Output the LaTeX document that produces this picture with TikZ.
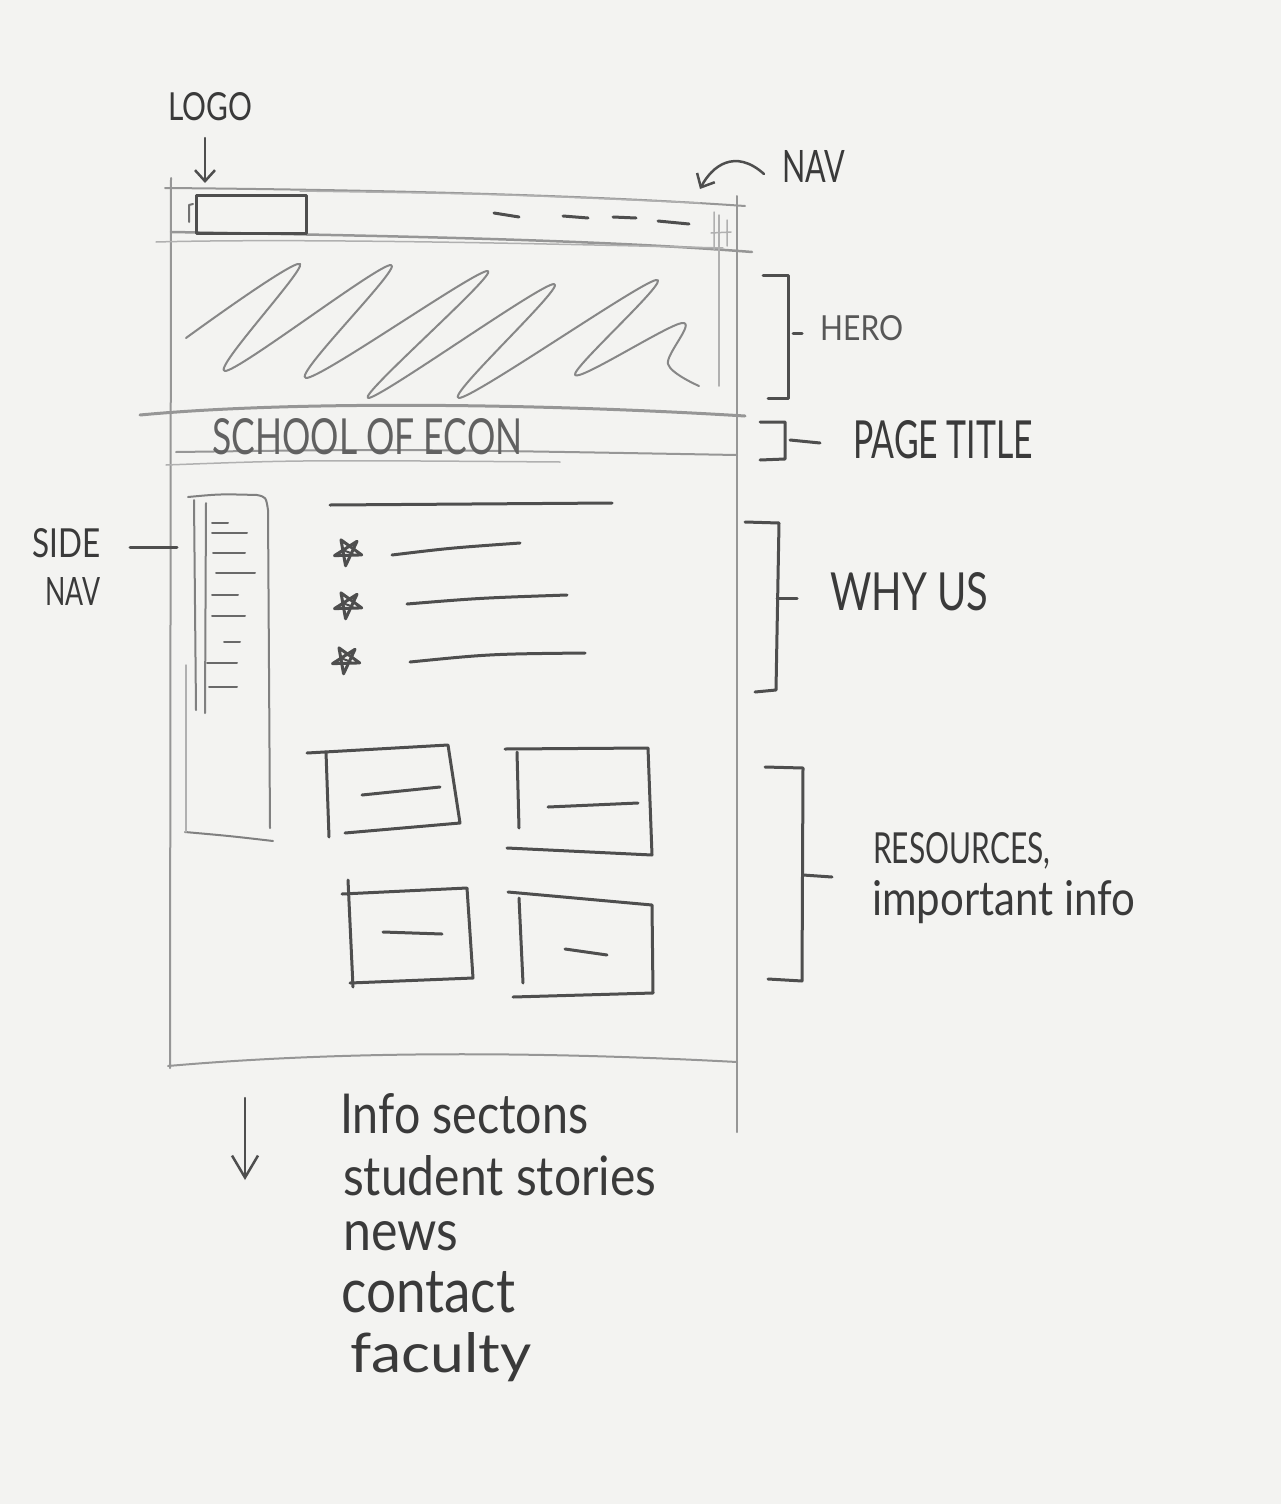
\documentclass[tikz,border=0pt]{standalone}
\usepackage{fontspec}
\usetikzlibrary{arrows.meta}
\newfontfamily\handfont{Lato}
% text stretched to a given width and height (in pt)
\newcommand{\handtext}[3]{\resizebox{#1pt}{#2pt}{\handfont #3}}
\definecolor{paper}{RGB}{243,243,241}
\definecolor{pencilgray}{RGB}{150,150,150}
\definecolor{penink}{RGB}{78,78,78}
\definecolor{ink}{RGB}{58,58,58}

\begin{document}
\begin{tikzpicture}[x=1pt,y=-1pt,
  pencil/.style={draw=pencilgray,line width=2pt,line cap=round,line join=round},
  softpencil/.style={draw=pencilgray!75,line width=1.5pt,line cap=round,line join=round},
  pen/.style={draw=penink,line width=3pt,line cap=round,line join=round},
  lbl/.style={inner sep=0pt,anchor=base west,text=ink},
  barb/.style={-{Straight Barb[length=11pt,width=20pt]}}]

\fill[paper] (0,0) rectangle (1281,1504);
\useasboundingbox (0,0) rectangle (1281,1504);

% ---------- page frame ----------
\draw[pencil] (171,178) -- (170,1068);
\draw[pencil] (737,196) -- (737,1132);
\draw[pencil] (165,188) .. controls (400,190) and (600,196) .. (745,206);
\draw[softpencil] (300,191) .. controls (500,194) .. (700,203);

% navigation bar
\draw[pencil,line width=2.5pt] (171,232) .. controls (400,236) and (600,240) .. (752,252);
\draw[softpencil] (156,242) .. controls (300,238) and (560,244) .. (723,248);
\draw[softpencil] (719,215) -- (719,386);
\draw[softpencil] (714,212) -- (714,250) (727,220) -- (727,246) (711,233) -- (731,232);

\node[pen,draw,minimum width=110pt,minimum height=38pt,inner sep=0pt] (logobox) at (251,214) {};
\draw[pencil,draw=penink!80] (193,204) -- (189,205) -- (189,222);
\draw[pen] (494,213) -- (519,217);
\draw[pen] (563,216) -- (588,218);
\draw[pen] (613,217) -- (636,218);
\draw[pen] (658,221) -- (689,224);

% hero scribble
\draw[pencil,draw=pencilgray!90!black] plot[smooth,tension=0.55] coordinates {
  (186,338) (300,264) (225,371) (391,265) (306,378) (488,271) (368,398)
  (554,284) (459,398) (656,280) (575,375) (682,323) (668,364) (699,386)};

% page title band
\draw[pencil,line width=3pt] (140,415) .. controls (300,400) and (550,404) .. (745,416);
\draw[pencil] (176,452) .. controls (400,449) .. (737,455);
\draw[softpencil] (166,465) .. controls (300,460) .. (560,462);
\node[lbl,text=ink!80] (school) at (212,454) {\handtext{310}{36}{SCHOOL OF ECON}};

% ---------- side navigation ----------
\draw[pencil,draw=pencilgray!85!black] (188,497) .. controls (220,494) .. (257,495)
  .. controls (266,497) .. (268,510) -- (270,828);
\draw[pencil,draw=pencilgray!85!black] (185,832) .. controls (230,836) .. (273,841);
\draw[pencil,draw=pencilgray!85!black] (194,500) -- (196,710);
\draw[softpencil] (186,665) -- (186,832);
\draw[pencil,draw=pencilgray!85!black] (206,503) -- (205,713);
\foreach \xa/\xb/\yy in {212/228/523, 212/247/533, 213/245/553, 216/255/573,
  212/238/595, 212/245/616, 224/240/642, 207/237/663, 209/237/687}
  \draw[pencil,draw=penink!85] (\xa,\yy) -- (\xb,\yy);
\coordinate (sidenavedge) at (177,547);

% ---------- why us ----------
\draw[pen] (330,505) -- (612,503);
\foreach \cx/\cy in {348/552,348/605,346/660} {
  \draw[pen,line width=3pt]
    ([shift={(100:14)}]\cx,\cy) -- ([shift={(240:14)}]\cx,\cy)
    -- ([shift={(12:14)}]\cx,\cy) -- ([shift={(165:14)}]\cx,\cy)
    -- ([shift={(310:14)}]\cx,\cy) -- cycle;
  \draw[pen,line width=2pt] ([shift={(200:5)}]\cx,\cy) -- ([shift={(20:5)}]\cx,\cy);
}
\draw[pen] (392,555) .. controls (450,548) .. (520,543);
\draw[pen] (407,604) .. controls (480,598) .. (567,595);
\draw[pen] (410,662) .. controls (490,654) .. (585,653);

% ---------- resource cards ----------
\draw[pen] (307,753) -- (448,745) -- (460,823) -- (345,833);
\draw[pen] (326,752) -- (329,837);
\draw[pen] (362,795) -- (440,787);
\draw[pen] (505,749) -- (648,748) -- (652,855) -- (507,848);
\draw[pen] (517,752) -- (519,828);
\draw[pen] (548,807) -- (638,803);
\draw[pen] (342,894) -- (467,888) -- (473,978) -- (350,983);
\draw[pen] (348,880) -- (353,987);
\draw[pen] (383,932) -- (442,934);
\draw[pen] (508,892) -- (652,905) -- (653,993) -- (513,997);
\draw[pen] (519,898) -- (523,983);
\draw[pen] (565,949) -- (607,955);

% bottom of the page
\draw[pencil] (168,1066) .. controls (350,1050) and (550,1052) .. (737,1062);

% ---------- brackets ----------
\draw[pen] (763,275) -- (788,275) -- (788,398) -- (768,398);
\draw[pen] (793,333) -- (802,333);
\draw[pen] (760,422) -- (785,422) -- (785,459) -- (760,460);
\draw[pen] (790,440) -- (820,443);
\draw[pen] (745,522) -- (779,523) -- (776,690) -- (755,692);
\draw[pen] (777,598) -- (797,598);
\draw[pen] (765,767) -- (803,768) -- (802,981) -- (768,979);
\draw[pen] (803,875) -- (832,877);

% ---------- labels ----------
\node[lbl] (logo) at (168,120) {\handtext{84}{28}{LOGO}};
\node[lbl] (nav) at (782,182) {\handtext{63}{32}{NAV}};
\node[lbl,text=ink!85] (hero) at (820,340) {\handtext{83}{25}{HERO}};
\node[lbl] (pagetitle) at (853,458) {\handtext{180}{38}{PAGE TITLE}};
\node[lbl] (whyus) at (830,610) {\handtext{158}{38}{WHY US}};
\node[lbl] (resources) at (873,863) {\handtext{177}{31}{RESOURCES,}};
\node[lbl] (important) at (872,915) {\handtext{263}{35}{important info}};
\node[lbl] (side) at (32,557) {\handtext{68}{29}{SIDE}};
\node[lbl] (sidenav) at (45,605) {\handtext{55}{28}{NAV}};
\node[lbl] (info) at (340,1133) {\handtext{248}{40}{Info sectons}};
\node[lbl] (stories) at (343,1195) {\handtext{313}{40}{student stories}};
\node[lbl] (news) at (343,1250) {\handtext{115}{29}{news}};
\node[lbl] (contact) at (341,1312) {\handtext{174}{41}{contact}};
\node[lbl] (faculty) at (350,1372) {\handtext{181}{40}{faculty}};

% ---------- pointers ----------
\coordinate (logotip) at (205,183);
\draw[pen,line width=2.5pt,barb] (205,138) -- (logotip);
\coordinate (navtip) at (700,189);
\draw[pen,line width=2.5pt,barb] ([xshift=-18pt,yshift=-8pt]nav.west) .. controls (735,148) and (712,166) .. (navtip);
\draw[pen] (130,547) -- (sidenavedge);
\coordinate (scrolltip) at (245,1180);
\draw[pen,line width=2.5pt,-{Straight Barb[length=22pt,width=26pt]}] (245,1098) -- (scrolltip);

\end{tikzpicture}
\end{document}
